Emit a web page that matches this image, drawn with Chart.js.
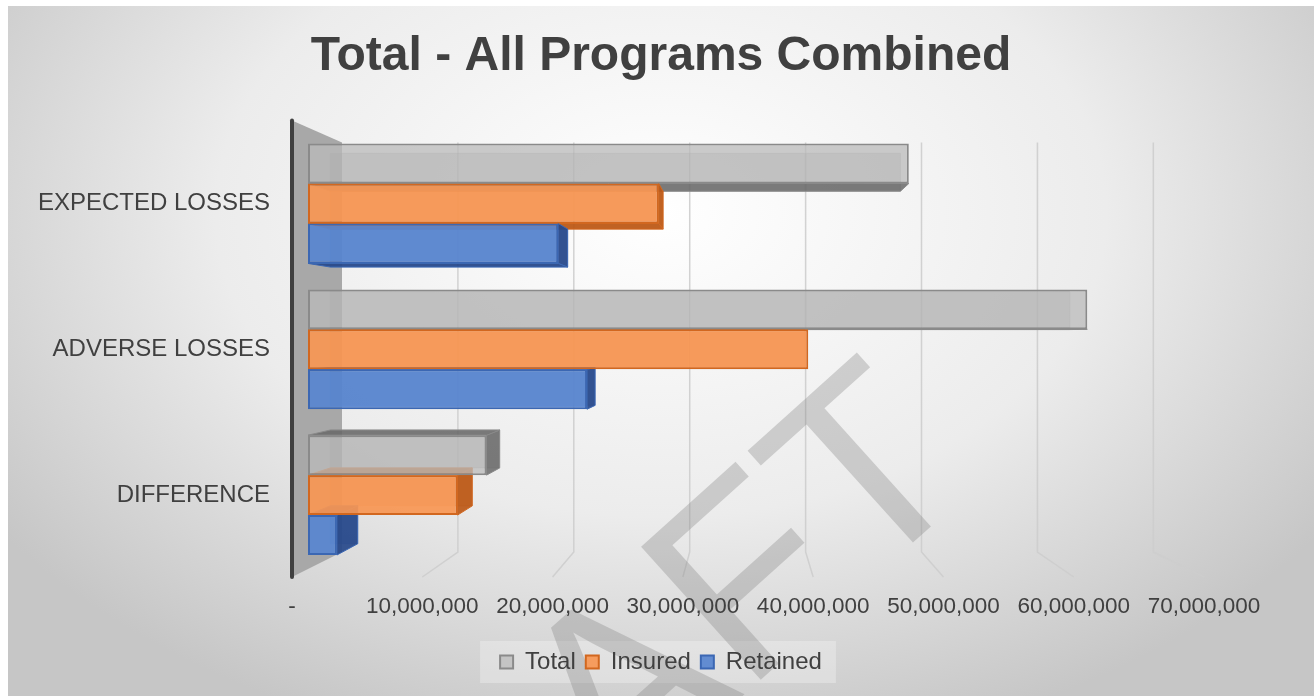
<!DOCTYPE html>
<html>
<head>
<meta charset="utf-8">
<title>Total - All Programs Combined</title>
<script src="https://cdn.jsdelivr.net/npm/chart.js@4"></script>
<style>
  html, body { margin: 0; background: #ffffff; }
  #panel {
    position: absolute; left: 8px; top: 6px; width: 1306px; height: 690px;
    background: radial-gradient(ellipse 62% 80% at 50% 30%, #ffffff 0%, #ececec 55%, #c6c6c6 100%);
  }
</style>
</head>
<body>
<div id="panel"><canvas id="chart"></canvas></div>
<script>
/* ---- data ---- */
const categories = ['EXPECTED LOSSES', 'ADVERSE LOSSES', 'DIFFERENCE'];
const seriesNames = ['Total', 'Insured', 'Retained'];
const totalValues = [47800000, 62000000, 14200000];
const insuredValues = [27900000, 39800000, 11900000];
const retainedValues = [19900000, 22200000, 2300000];
const axisTicks = [0, 10000000, 20000000, 30000000, 40000000, 50000000, 60000000, 70000000];

/* ---- look ---- */
const faceColors = ['rgba(186,186,186,0.76)', 'rgba(247,151,84,0.93)', 'rgba(88,133,208,0.93)'];
const edgeColors = ['#8a8a8a', '#d2671f', '#3b67b3'];
const sideColors = ['rgba(105,105,105,0.85)', 'rgba(188,88,22,0.92)', 'rgba(38,72,138,0.92)'];
const barDepth = 0.949; // back face of a bar, scaled toward the vanishing point

Chart.defaults.font.family = '"Liberation Sans", Arial, sans-serif';
Chart.defaults.color = '#404040';

// fake 3D room: side wall, floor gridlines, watermark, bar depth
const room3d = {
  id: 'room3d',
  beforeDraw(chart) {
    const { ctx, chartArea: a, scales } = chart;
    const xf = scales.xf, xb = scales.xb;
    const ft = a.top - 10, fb = a.bottom + 9, bt = a.top + 12, bb = a.bottom - 16;
    const last = axisTicks[axisTicks.length - 1];
    const w0 = xf.getPixelForValue(0), w1 = xb.getPixelForValue(0);
    const f7 = xf.getPixelForValue(last), b7 = xb.getPixelForValue(last);
    const sx = (b7 - w1) / (f7 - w0), sy = (bb - bt) / (fb - ft);
    chart.$vp = { x: (w1 - w0 * sx) / (1 - sx), y: (bt - ft * sy) / (1 - sy) };

    ctx.save();
    // legend backing
    const boxes = chart.legend.legendHitBoxes || [];
    if (boxes.length) {
      const l = Math.min(...boxes.map(b => b.left)) - 20;
      const r = Math.max(...boxes.map(b => b.left + b.width)) + 14;
      ctx.fillStyle = 'rgba(255,255,255,0.28)';
      ctx.fillRect(l, boxes[0].top - 9, r - l, boxes[0].height + 18);
    }

    // gridlines on back wall and floor
    ctx.strokeStyle = 'rgba(205,205,205,0.9)';
    ctx.lineWidth = 1.5;
    axisTicks.slice(1).forEach(v => {
      const xBack = xb.getPixelForValue(v), xFront = xf.getPixelForValue(v);
      ctx.beginPath();
      ctx.moveTo(xBack, bt);
      ctx.lineTo(xBack, bb);
      ctx.lineTo(xFront, fb);
      ctx.stroke();
    });

    // DRAFT watermark
    ctx.save();
    ctx.translate(603, 712);
    ctx.rotate(-42 * Math.PI / 180);
    ctx.font = '260px "Liberation Sans", Arial, sans-serif';
    ctx.textAlign = 'center';
    ctx.fillStyle = 'rgba(128,128,128,0.32)';
    ctx.fillText('DRAFT', 0, 0);
    ctx.restore();

    // side wall + axis line
    ctx.fillStyle = '#a8a8a8';
    ctx.beginPath();
    ctx.moveTo(w0, ft); ctx.lineTo(w1, bt); ctx.lineTo(w1, bb); ctx.lineTo(w0, fb);
    ctx.closePath();
    ctx.fill();
    ctx.strokeStyle = '#404040';
    ctx.lineWidth = 4;
    ctx.lineCap = 'round';
    ctx.beginPath();
    ctx.moveTo(w0, ft); ctx.lineTo(w0, fb);
    ctx.stroke();
    ctx.restore();
  },
  beforeDatasetsDraw(chart) {
    const { ctx } = chart;
    const vp = chart.$vp;
    const P = (px, py) => [vp.x + (px - vp.x) * barDepth, vp.y + (py - vp.y) * barDepth];
    ctx.save();
    chart.data.datasets.forEach((ds, i) => {
      chart.getDatasetMeta(i).data.forEach(bar => {
        const { x, y, base, height } = bar.getProps(['x', 'y', 'base', 'height'], true);
        const x0 = Math.min(base, x), x1 = Math.max(base, x);
        const y0 = y - height / 2, y1 = y + height / 2;
        const [bx0, by0] = P(x0, y0), [bx1, by1] = P(x1, y1);
        const quad = pts => {
          ctx.beginPath();
          pts.forEach(([px, py], k) => (k ? ctx.lineTo(px, py) : ctx.moveTo(px, py)));
          ctx.closePath();
          ctx.fill();
          ctx.stroke();
        };
        ctx.fillStyle = sideColors[i];
        ctx.strokeStyle = edgeColors[i];
        ctx.lineWidth = 1;
        // back face, seen through the front
        ctx.globalAlpha = 0.3;
        quad([[bx0, by0], [bx1, by0], [bx1, by1], [bx0, by1]]);
        ctx.globalAlpha = 1;
        if (x1 < vp.x) quad([[x1, y0], [bx1, by0], [bx1, by1], [x1, y1]]);
        if (y1 < vp.y) quad([[x0, y1], [x1, y1], [bx1, by1], [bx0, by1]]);
        if (y0 > vp.y) quad([[x0, y0], [x1, y0], [bx1, by0], [bx0, by0]]);
      });
    });
    ctx.restore();
  }
};

const seriesValues = [totalValues, insuredValues, retainedValues];

new Chart(document.getElementById('chart'), {
  type: 'bar',
  data: {
    labels: categories,
    datasets: seriesNames.map((name, i) => ({
      label: name,
      data: seriesValues[i],
      backgroundColor: faceColors[i],
      borderColor: edgeColors[i],
      borderWidth: 2,
      borderSkipped: false,
      categoryPercentage: 0.822,
      barPercentage: 1.0
    }))
  },
  options: {
    indexAxis: 'y',
    responsive: true,
    maintainAspectRatio: false,
    animation: false,
    layout: { padding: { left: 14, right: 14, top: 0, bottom: 12 } },
    plugins: {
      title: {
        display: true,
        text: 'Total - All Programs Combined',
        color: '#404040',
        font: { size: 48, weight: 'bold' },
        padding: { top: 22, bottom: 45 }
      },
      legend: {
        position: 'bottom',
        labels: { boxWidth: 13, boxHeight: 13, padding: 10, color: '#404040', font: { size: 24 } }
      },
      tooltip: { enabled: false }
    },
    scales: {
      // scale the bars sit on (mid depth)
      x: { display: false, min: -1273000, max: 72160000 },
      // back wall scale
      xb: { axis: 'x', display: false, min: -4314000, max: 75320000 },
      // front edge scale, carries the labels
      xf: {
        axis: 'x',
        position: 'bottom',
        min: 0,
        max: 70840000,
        afterBuildTicks: scale => { scale.ticks = axisTicks.map(value => ({ value })); },
        afterFit: scale => { scale.height = 72; },
        grid: { display: false, drawTicks: false },
        border: { display: false },
        ticks: {
          autoSkip: false,
          maxRotation: 0,
          padding: 25,
          color: '#404040',
          font: { size: 22.5 },
          callback: v => (v === 0 ? '-' : v.toLocaleString('en-US'))
        }
      },
      y: {
        afterFit: scale => { scale.width = 270; },
        grid: { display: false, drawTicks: false },
        border: { display: false },
        ticks: { padding: 22, color: '#404040', font: { size: 24 } }
      },
      // empty right-hand gutter so title and legend stay centred on the panel
      yr: {
        type: 'linear',
        position: 'right',
        afterFit: scale => { scale.width = 85; },
        ticks: { display: false },
        grid: { display: false, drawTicks: false },
        border: { display: false }
      }
    }
  },
  plugins: [room3d]
});
</script>
</body>
</html>
